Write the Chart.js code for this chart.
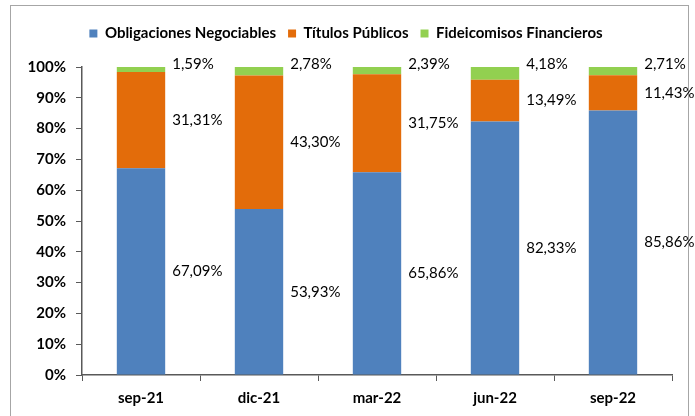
<!DOCTYPE html>
<html>
<head>
<meta charset="utf-8">
<script src="https://cdn.jsdelivr.net/npm/chart.js@4"></script>
<style>
  html, body { margin: 0; padding: 0; background: #fff; }
  #frame { position: absolute; left: 10px; top: 5px; width: 677px; height: 430px; border: 1px solid #a6a6a6; }
  #wrap { position: absolute; left: 0; top: 0; width: 695px; height: 416px; }
</style>
</head>
<body>
<div id="frame"></div>
<div id="wrap"><canvas id="chart"></canvas></div>
<script>
const categories = ['sep-21', 'dic-21', 'mar-22', 'jun-22', 'sep-22'];
const obligaciones = [67.09, 53.93, 65.86, 82.33, 85.86];
const titulos = [31.31, 43.30, 31.75, 13.49, 11.43];
const fideicomisos = [1.59, 2.78, 2.39, 4.18, 2.71];
const yTicks = [0, 10, 20, 30, 40, 50, 60, 70, 80, 90, 100];

const FONT = 'Lato, "Liberation Sans", sans-serif';
const fmt = v => v.toFixed(2).replace('.', ',') + '%';

// etiquetas a la derecha de cada segmento
const sideLabels = {
    id: 'sideLabels',
    afterDatasetsDraw(chart) {
        const ctx = chart.ctx;
        ctx.save();
        ctx.font = '15px ' + FONT;
        ctx.fillStyle = '#000';
        ctx.textAlign = 'left';
        ctx.textBaseline = 'middle';
        const last = chart.data.datasets.length - 1;
        chart.data.datasets.forEach((ds, i) => {
            chart.getDatasetMeta(i).data.forEach((el, j) => {
                const x = el.x + el.width / 2 + 7;
                const y = i === last ? el.y - 3 : (el.y + el.base) / 2;
                ctx.fillText(fmt(ds.data[j]), x, y);
            });
        });
        ctx.restore();
    }
};

// mas espacio entre la leyenda y el grafico
const legendGap = {
    id: 'legendGap',
    beforeInit(chart) {
        const fit = chart.legend.fit;
        chart.legend.fit = function () {
            fit.bind(chart.legend)();
            this.height += 16;
        };
    }
};

new Chart(document.getElementById('chart'), {
    type: 'bar',
    data: {
        labels: categories,
        datasets: [
            { label: 'Obligaciones Negociables', data: obligaciones, backgroundColor: '#4f81bd' },
            { label: 'Títulos Públicos', data: titulos, backgroundColor: '#e36c0a' },
            { label: 'Fideicomisos Financieros', data: fideicomisos, backgroundColor: '#92d050' }
        ]
    },
    options: {
        responsive: true,
        maintainAspectRatio: false,
        animation: false,
        layout: { padding: { left: 20, right: 23, top: 14, bottom: 1 } },
        datasets: { bar: { barPercentage: 0.82, categoryPercentage: 0.5 } },
        plugins: {
            tooltip: { enabled: false },
            legend: {
                position: 'top',
                labels: {
                    boxWidth: 8,
                    boxHeight: 8,
                    color: '#000',
                    padding: 12,
                    font: { family: FONT, size: 15, weight: 'bold' }
                }
            }
        },
        scales: {
            x: {
                stacked: true,
                grid: { drawOnChartArea: false, tickLength: 6, color: '#595959' },
                border: { color: '#595959', width: 1.5 },
                ticks: { color: '#000', padding: 8, font: { family: FONT, size: 15, weight: 'bold' } }
            },
            y: {
                stacked: true,
                min: 0,
                max: 100,
                afterBuildTicks: axis => { axis.ticks = yTicks.map(v => ({ value: v })); },
                afterFit: axis => { axis.width = 62; },
                grid: { drawOnChartArea: false, tickLength: 6, color: '#595959' },
                border: { color: '#595959', width: 1.5 },
                ticks: {
                    color: '#000',
                    padding: 10,
                    font: { family: FONT, size: 15, weight: 'bold' },
                    callback: v => v + '%'
                }
            }
        }
    },
    plugins: [sideLabels, legendGap]
});
</script>
</body>
</html>
